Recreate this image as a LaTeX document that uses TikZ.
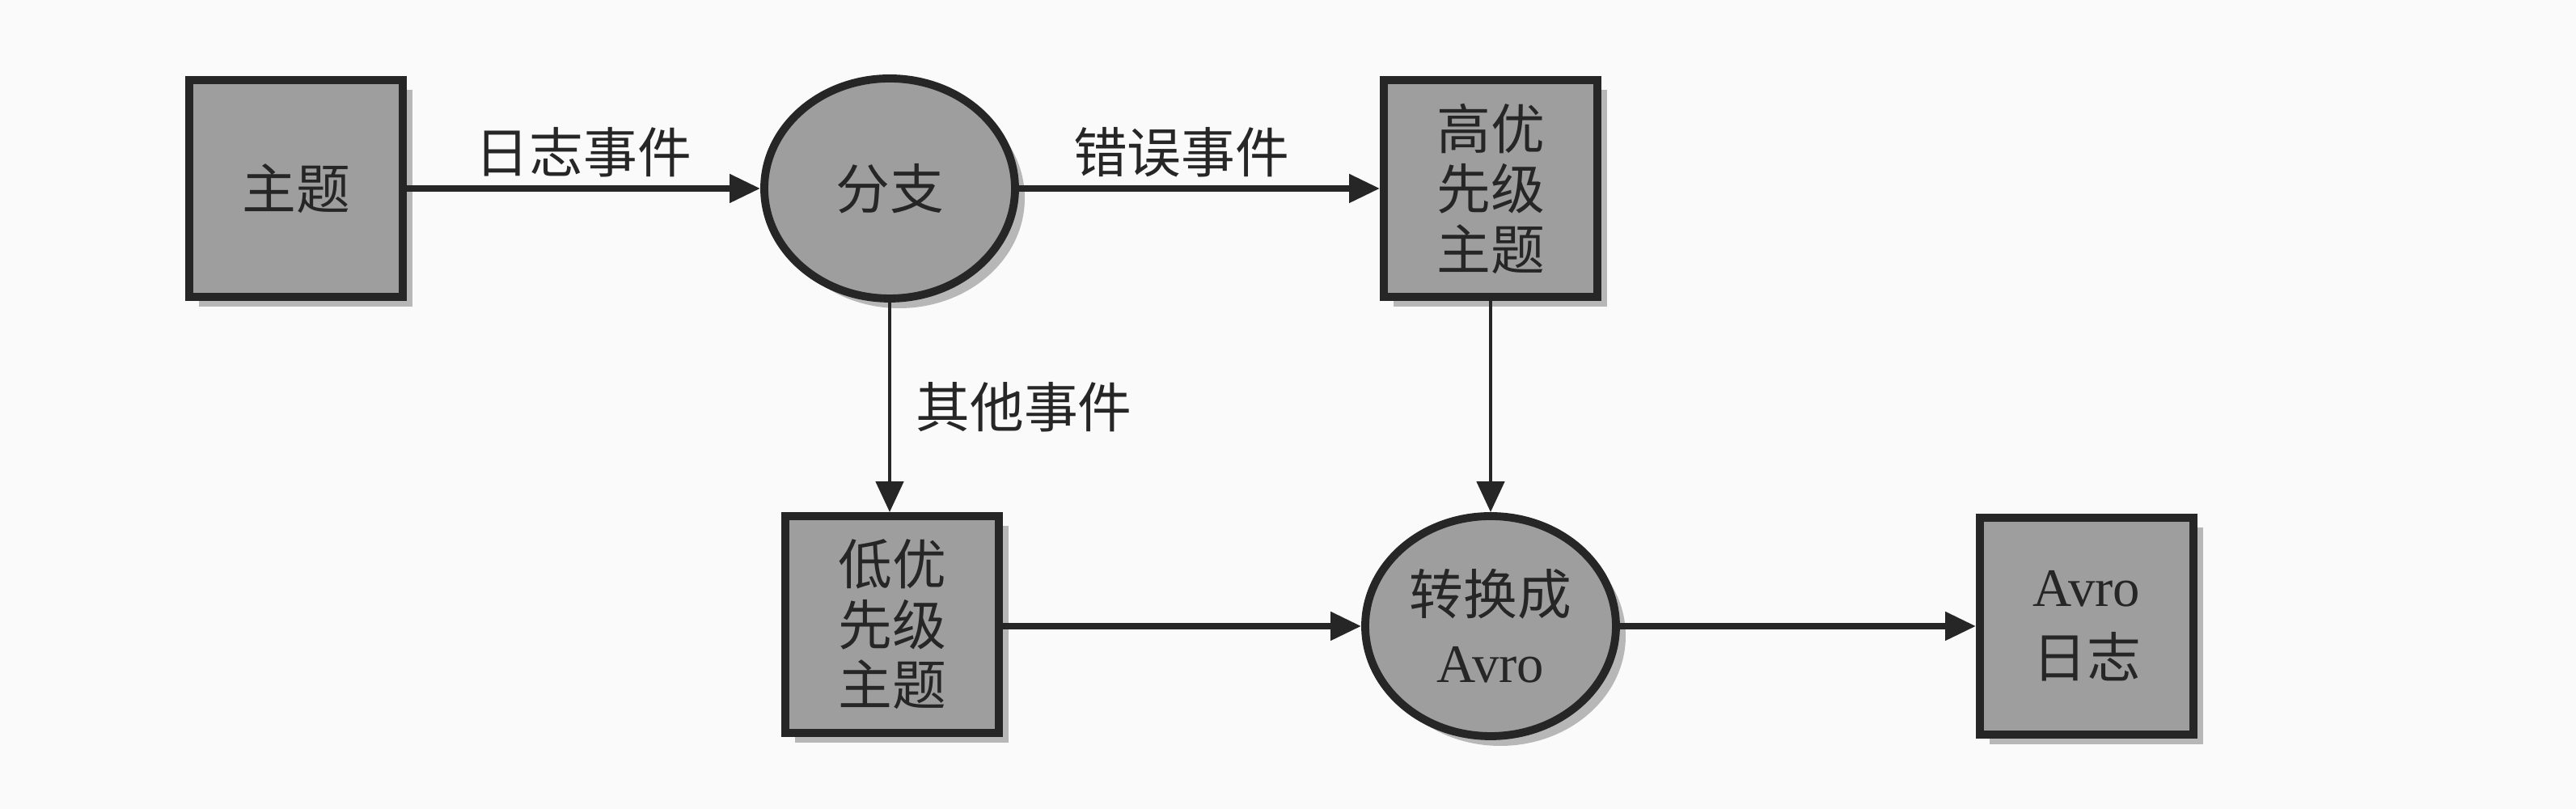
\documentclass[tikz,border=0pt]{standalone}
\usepackage{fontspec}
\setmainfont{Noto Sans CJK SC}
\newfontfamily\avrofont{Liberation Serif}
\usepackage{xcolor}
\usepackage{tikz}
\usetikzlibrary{arrows.meta,shapes.geometric,shadows}

\begin{document}
\begin{tikzpicture}[>={Triangle[length=1.9mm,width=1.7mm]},
  every node/.style={font=\fontsize{9.5}{12}\selectfont,text=black!85},
  topicbox/.style={draw=black!85,line width=1.4pt,fill=black!38,minimum width=1.32cm,minimum height=1.34cm,inner sep=0pt,align=center,
    font=\fontsize{9.5}{10.6}\selectfont,
    drop shadow={shadow xshift=.06cm,shadow yshift=-.06cm,fill=black!60,opacity=.45}},
  procnode/.style={ellipse,draw=black!85,line width=1.4pt,fill=black!38,minimum width=1.55cm,minimum height=1.36cm,inner sep=0pt,align=center,
    drop shadow={shadow xshift=.06cm,shadow yshift=-.06cm,fill=black!60,opacity=.45}},
  flow/.style={->,draw=black!85,line width=1.1pt},
  thinflow/.style={->,draw=black!85,line width=.7pt},
  flowlabel/.style={inner sep=1.5pt}]
\fill[black!2] (0,0) rectangle (15.925,5);
\node[topicbox] (topic) at (1.83,3.835) {主题};
\node[procnode] (branch) at (5.5,3.835) {分支};
\node[topicbox] (high) at (9.215,3.835) {高优\\先级\\主题};
\node[topicbox] (low) at (5.515,1.14) {低优\\先级\\主题};
\node[procnode] (convert) at (9.215,1.13) {转换成\\{\avrofont Avro}};
\node[topicbox] (avrolog) at (12.9,1.13) {{\avrofont Avro}\\[2pt]日志};
\draw[flow] (topic) -- node[above,flowlabel] {日志事件} (branch);
\draw[flow] (branch) -- node[above,flowlabel,pos=.45] {错误事件} (high);
\draw[thinflow] (branch.south) -- node[right,inner sep=.15cm] {其他事件} (branch.south |- low.north);
\draw[thinflow] (high) -- (convert);
\draw[flow] (low.east |- convert) -- (convert);
\draw[flow] (convert) -- (avrolog);
\end{tikzpicture}
\end{document}
